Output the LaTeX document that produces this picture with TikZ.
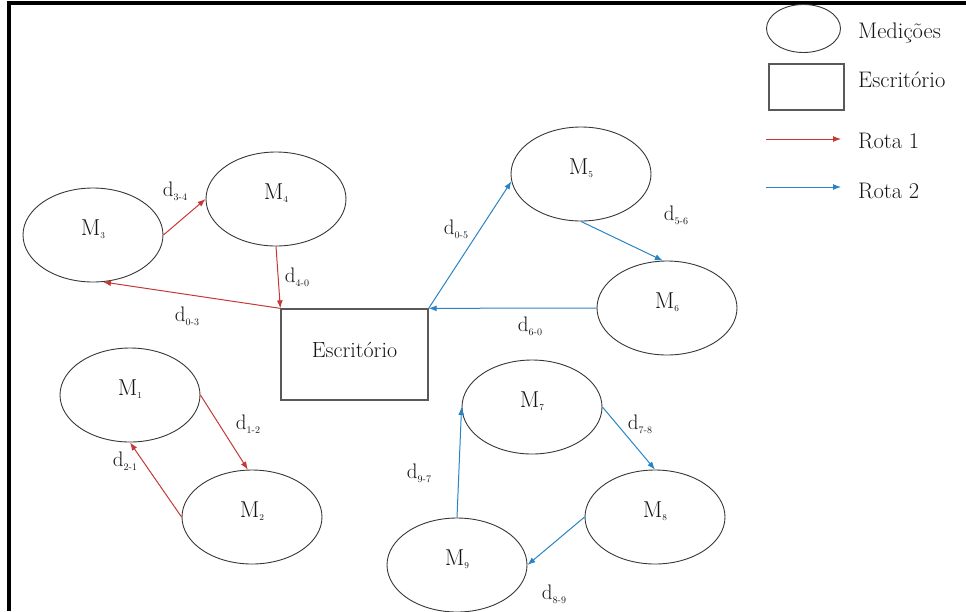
\documentclass[tikz,border=0pt]{standalone}
\usetikzlibrary{shapes.geometric,arrows.meta}
\definecolor{rotaA}{RGB}{198,56,56}
\definecolor{rotaB}{RGB}{40,132,196}
\definecolor{txt}{RGB}{20,20,20}
\definecolor{edge}{RGB}{55,55,55}
\newcommand\Msub[1]{M\raisebox{-0.35ex}{\fontsize{9}{9}\selectfont #1}}
\newcommand\dsub[1]{d\raisebox{-0.45ex}{\fontsize{10}{10}\selectfont #1}}
\tikzset{
  med/.style={ellipse,draw=edge,line width=0.9pt,minimum width=140pt,minimum height=94pt,inner sep=0pt,text=txt,font=\fontsize{23}{27}\selectfont,text height=12pt,text depth=12pt},
  office/.style={rectangle,draw=black!65,line width=1.3pt,minimum width=147pt,minimum height=91pt,inner sep=0pt,text=txt,font=\fontsize{22}{26}\selectfont,text height=10pt,text depth=5pt},
  rA/.style={draw=rotaA,line width=1pt,-{Latex[length=8pt,width=6pt]}},
  rB/.style={draw=rotaB,line width=1pt,-{Latex[length=8pt,width=6pt]}},
  dl/.style={text=txt,font=\fontsize{21}{24}\selectfont,inner sep=0pt},
  legtxt/.style={text=txt,font=\fontsize{22.5}{27}\selectfont,anchor=base west,inner sep=0pt},
  frameline/.style={line width=4pt,draw=black}
}
\begin{document}
\begin{tikzpicture}[x=1pt,y=-1pt]
\useasboundingbox (0,0) rectangle (966,611);
% frame
\coordinate (fA) at (8.5,611);
\coordinate (fB) at (8.5,3);
\coordinate (fC) at (966,3);
\draw[frameline] (fA) -- (fB) -- (fC);
% nodes
\node[office] (esc) at (354.5,354.5) {Escritório};
\node[med] (m1) at (130,395) {\Msub{1}};
\node[med] (m2) at (252,517) {\Msub{2}};
\node[med] (m3) at (93,235) {\Msub{3}};
\node[med] (m4) at (276,199) {\Msub{4}};
\node[med] (m5) at (581,174) {\Msub{5}};
\node[med] (m6) at (667,308) {\Msub{6}};
\node[med] (m7) at (532,407) {\Msub{7}};
\node[med] (m8) at (655,517) {\Msub{8}};
\node[med] (m9) at (457,565) {\Msub{9}};
% route 1
\draw[rA] (m3.east) -- (m4.west);
\draw[rA] (m4.south) -- (esc.north west);
\draw[rA] (esc.north west) -- (m3.-78);
\draw[rA] (m1.east) -- (m2.95);
\draw[rA] (m2.west) -- (m1.south);
% route 2
\draw[rB] (esc.north east) -- (m5.186);
\draw[rB] (m5.south) -- (m6.95);
\draw[rB] (m6.west) -- (esc.north east);
\draw[rB] (m9.north) -- (m7.west);
\draw[rB] (m7.east) -- (m8.north);
\draw[rB] (m8.west) -- (m9.east);
% labels
\node[dl] (l34) at (175,191) {\dsub{3-4}};
\node[dl] (l40) at (297,277) {\dsub{4-0}};
\node[dl] (l03) at (187,316) {\dsub{0-3}};
\node[dl] (l05) at (456,229) {\dsub{0-5}};
\node[dl] (l56) at (676,215) {\dsub{5-6}};
\node[dl] (l60) at (530,326) {\dsub{6-0}};
\node[dl] (l12) at (248,424) {\dsub{1-2}};
\node[dl] (l21) at (125,461) {\dsub{2-1}};
\node[dl] (l97) at (419,473) {\dsub{9-7}};
\node[dl] (l78) at (640,424) {\dsub{7-8}};
\node[dl] (l89) at (554,594) {\dsub{8-9}};
% legend
\node[ellipse,draw=edge,line width=0.9pt,minimum width=74pt,minimum height=48pt,inner sep=0pt] (legm) at (803.5,28.5) {};
\node[rectangle,draw=black!65,line width=1.3pt,minimum width=75pt,minimum height=46pt,inner sep=0pt] (lege) at (806.5,87) {};
\coordinate (r1a) at (766,139);
\coordinate (r1b) at (841,139);
\coordinate (r2a) at (766,187);
\coordinate (r2b) at (841,187);
\draw[rA] (r1a) -- (r1b);
\draw[rB] (r2a) -- (r2b);
\node[legtxt] (t1) at (858,38) {Medições};
\node[legtxt] (t2) at (858,87) {Escritório};
\node[legtxt] (t3) at (858,148) {Rota 1};
\node[legtxt] (t4) at (858,198) {Rota 2};
\end{tikzpicture}
\end{document}
